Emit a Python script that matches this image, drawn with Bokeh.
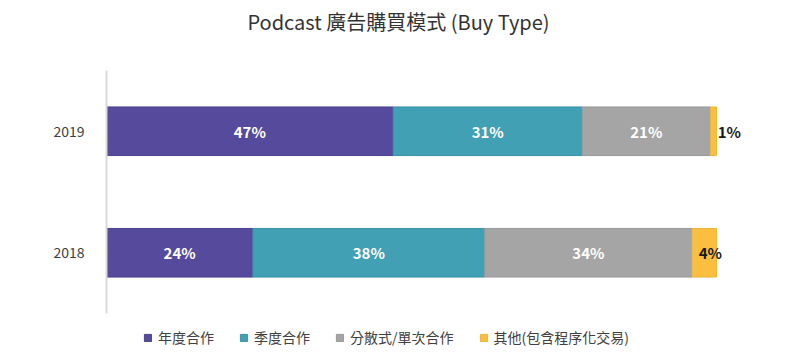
from bokeh.plotting import figure
from bokeh.models import ColumnDataSource, Range1d, FactorRange, Legend, LegendItem, Label
from bokeh.layouts import column
from bokeh.core.properties import value
from bokeh.embed import file_html
from bokeh.resources import INLINE

title_text = "Podcast 廣告購買模式 (Buy Type)"
years = ["2018", "2019"]
series = ["年度合作", "季度合作", "分散式/單次合作", "其他(包含程序化交易)"]
annual = [24, 47]
quarterly = [38, 31]
single = [34, 21]
other = [4, 1]
colors = ["#554A9C", "#41A0B4", "#A5A5A5", "#FABE40"]
outline = ["#4A4090", "#3A93A6", "#9A9A9A", "#F0B437"]

FONT = "Noto Sans CJK TC"

keys = ["a", "q", "s", "o"]
data = {"year": years, "a": annual, "q": quarterly, "s": single, "o": other}
source = ColumnDataSource(data)

# ---- title strip (frame is aligned with the chart frame: 106..780 px) ----
tf = figure(width=800, height=40, output_backend="svg", toolbar_location=None,
            min_border=0, x_range=Range1d(106, 780), y_range=Range1d(0, 40))
tf.xaxis.visible = False
tf.yaxis.visible = False
tf.xgrid.visible = False
tf.ygrid.visible = False
tf.outline_line_color = None
tf.add_layout(Label(x=398, y=19, text=title_text, text_align="center",
                    text_baseline="middle", text_font=FONT,
                    text_font_size="20px", text_color="#333333"))

# ---- main chart ----
p = figure(width=800, height=275, y_range=FactorRange(factors=years),
           x_range=Range1d(0, 110.5),
           output_backend="svg", toolbar_location=None,
           min_border_left=106, min_border_right=20, min_border_top=30,
           min_border_bottom=2)

p.hbar_stack(keys, y="year", height=0.4, color=colors,
             line_color=outline, line_width=1, source=source)

cols = [annual, quarterly, single, other]
in_x, in_y, in_t = [], [], []
ot_x, ot_y, ot_t = [], [], []
oc_x, oc_y, oc_t = [], [], []
for i, yr in enumerate(years):
    start = 0
    for k, c in enumerate(cols):
        v = c[i]
        if k < 3:
            in_x.append(start + v / 2); in_y.append(yr); in_t.append(f"{v}%")
        elif v >= 3:
            oc_x.append(start + v / 2 + 1); oc_y.append(yr); oc_t.append(f"{v}%")
        else:
            ot_x.append(start + v + 0.2); ot_y.append(yr); ot_t.append(f"{v}%")
        start += v

p.text(x=in_x, y=in_y, text=in_t, text_color="white", text_align="center",
       text_baseline="middle", text_font=value(FONT), text_font_style="bold",
       text_font_size="15px")
p.text(x=oc_x, y=oc_y, text=oc_t, text_color="#1a1a1a", text_align="center",
       text_baseline="middle", text_font=value(FONT), text_font_style="bold",
       text_font_size="15px")
p.text(x=ot_x, y=ot_y, text=ot_t, text_color="#1a1a1a", text_align="left",
       text_baseline="middle", text_font=value(FONT), text_font_style="bold",
       text_font_size="15px")

p.xaxis.visible = False
p.xgrid.visible = False
p.ygrid.visible = False
p.outline_line_color = None
p.yaxis.axis_line_color = "#D9D9D9"
p.yaxis.axis_line_width = 2
p.yaxis.major_tick_line_color = None
p.yaxis.minor_tick_line_color = None
p.yaxis.major_label_text_font = FONT
p.yaxis.major_label_text_font_size = "14px"
p.yaxis.major_label_text_color = "#404040"
p.yaxis.major_label_standoff = 16

# ---- legend strip (proxy renderers with NaN data: only legend swatches show) ----
lg = figure(width=800, height=40, output_backend="svg", toolbar_location=None,
            min_border=0, x_range=Range1d(0, 1), y_range=Range1d(0, 1))
lg.xaxis.visible = False
lg.yaxis.visible = False
lg.xgrid.visible = False
lg.ygrid.visible = False
lg.outline_line_color = None
nan = float("nan")
items = []
for s, c, oc in zip(series, colors, outline):
    r = lg.hbar(y=[nan], left=[nan], right=[nan], height=0.4, fill_color=c,
                line_color=oc, line_width=1)
    items.append(LegendItem(label=s, renderers=[r]))
legend = Legend(items=items, orientation="horizontal", location=(37, 8),
                glyph_width=9, glyph_height=9, label_text_font=FONT,
                label_text_font_size="14px", label_text_color="#404040",
                spacing=25, label_standoff=6, border_line_color=None,
                background_fill_alpha=0, padding=0, margin=0)
lg.add_layout(legend, "center")

layout = column(tf, p, lg, spacing=0)
open("out.html", "w").write(file_html(layout, INLINE))
